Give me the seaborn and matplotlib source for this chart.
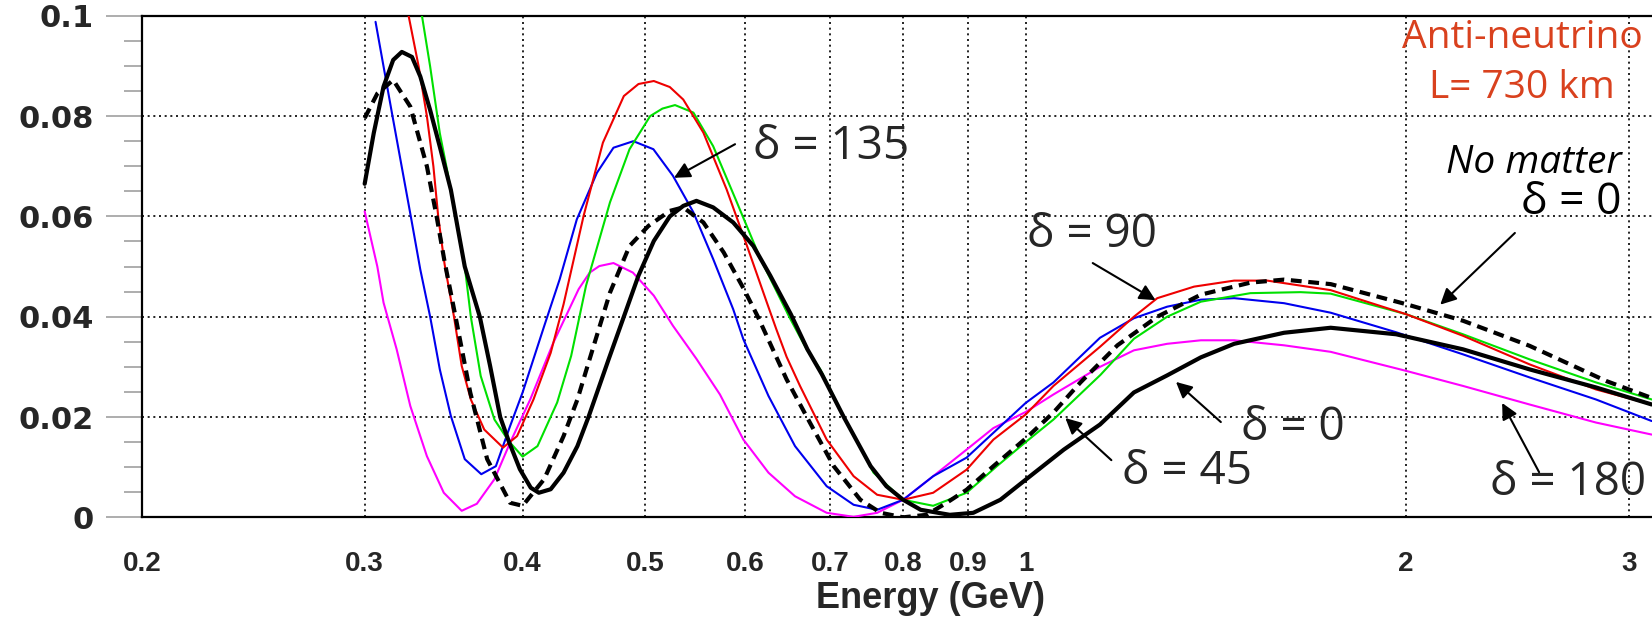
import numpy as np
import pandas as pd
import matplotlib
matplotlib.use("Agg")
import matplotlib.pyplot as plt
import seaborn as sns

# ---------------- data ----------------
black_E = [0.300, 0.305, 0.3105, 0.316, 0.321, 0.327, 0.332, 0.338, 0.344, 0.351, 0.356, 0.360,
           0.370, 0.377, 0.384, 0.390, 0.398, 0.406, 0.412, 0.421, 0.431, 0.442, 0.451, 0.468,
           0.481, 0.494, 0.508, 0.523, 0.536, 0.549, 0.566, 0.587, 0.609, 0.628, 0.652, 0.672,
           0.690, 0.718, 0.754, 0.776, 0.800, 0.826, 0.871, 0.909, 0.955, 1.000, 1.072, 1.145,
           1.218, 1.294, 1.376, 1.462, 1.601, 1.743, 1.964, 2.218, 2.504, 2.826, 3.128]
black_P = [0.0665, 0.0766, 0.0859, 0.0912, 0.0928, 0.0918, 0.0879, 0.0812, 0.0739, 0.0653, 0.0567, 0.0500,
           0.0400, 0.0302, 0.0200, 0.0152, 0.0096, 0.0059, 0.0049, 0.0056, 0.0089, 0.0142, 0.0200, 0.0316,
           0.0400, 0.0482, 0.0551, 0.0600, 0.0621, 0.0631, 0.0618, 0.0588, 0.0541, 0.0482, 0.0405, 0.0335,
           0.0285, 0.0200, 0.0102, 0.0062, 0.0035, 0.0015, 0.0005, 0.0009, 0.0035, 0.0075, 0.0135, 0.0185,
           0.0249, 0.0283, 0.0319, 0.0346, 0.0368, 0.0378, 0.0365, 0.0335, 0.0295, 0.0259, 0.0225]

nomat_E = [0.300, 0.307, 0.316, 0.326, 0.336, 0.342, 0.347, 0.354, 0.3636, 0.375, 0.391, 0.400,
           0.416, 0.431, 0.442, 0.451, 0.469, 0.486, 0.503, 0.523, 0.536, 0.556, 0.577, 0.598,
           0.614, 0.647, 0.675, 0.705, 0.740, 0.768, 0.800, 0.835, 0.866, 0.898, 0.943, 1.000,
           1.052, 1.105, 1.182, 1.271, 1.376, 1.506, 1.601, 1.743, 2.000, 2.218, 2.504, 2.878, 3.128]
nomat_P = [0.0796, 0.0845, 0.0872, 0.0819, 0.0700, 0.0600, 0.0510, 0.0400, 0.0249, 0.0116, 0.0029, 0.0023,
           0.0076, 0.0162, 0.0235, 0.0308, 0.0448, 0.0541, 0.0581, 0.0611, 0.0618, 0.0588, 0.0528, 0.0457,
           0.0400, 0.0275, 0.0189, 0.0102, 0.0035, 0.0009, 0.0000, 0.0005, 0.0029, 0.0055, 0.0102, 0.0157,
           0.0209, 0.0269, 0.0343, 0.0400, 0.0444, 0.0468, 0.0474, 0.0465, 0.0425, 0.0392, 0.0342, 0.0272, 0.0238]

red_E = [0.325, 0.331, 0.336, 0.340, 0.343, 0.347, 0.353, 0.358, 0.364, 0.373, 0.386, 0.396,
         0.408, 0.421, 0.431, 0.447, 0.463, 0.481, 0.494, 0.508, 0.523, 0.536, 0.556, 0.580, 0.602,
         0.624, 0.635, 0.647, 0.663, 0.696, 0.731, 0.763, 0.800, 0.845, 0.898, 0.943, 1.000,
         1.052, 1.145, 1.218, 1.271, 1.359, 1.462, 1.553, 1.743, 2.000, 2.218, 2.504, 2.826, 3.128]
red_P = [0.1000, 0.0899, 0.0800, 0.0700, 0.0600, 0.0505, 0.0400, 0.0302, 0.0235, 0.0175, 0.0139, 0.0162,
         0.0235, 0.0328, 0.0425, 0.0601, 0.0747, 0.0840, 0.0864, 0.0870, 0.0858, 0.0833, 0.0767, 0.0654, 0.0541,
         0.0429, 0.0375, 0.0320, 0.0262, 0.0155, 0.0082, 0.0045, 0.0035, 0.0049, 0.0095, 0.0155, 0.0205,
         0.0262, 0.0340, 0.0400, 0.0437, 0.0460, 0.0472, 0.0472, 0.0453, 0.0405, 0.0362, 0.0305, 0.0255, 0.0225]

green_E = [0.333, 0.338, 0.344, 0.349, 0.354, 0.360, 0.364, 0.3706, 0.380, 0.390, 0.400, 0.411,
           0.426, 0.437, 0.449, 0.469, 0.486, 0.5046, 0.516, 0.528, 0.546, 0.566, 0.591, 0.617, 0.632,
           0.650, 0.671, 0.688, 0.722, 0.758, 0.800, 0.845, 0.898, 0.949, 1.000, 1.052, 1.146,
           1.218, 1.294, 1.376, 1.506, 1.650, 1.743, 2.000, 2.218, 2.504, 2.826, 3.128]
green_P = [0.1000, 0.0899, 0.0766, 0.0686, 0.0600, 0.0500, 0.0400, 0.0282, 0.0195, 0.0152, 0.0121, 0.0142,
           0.0229, 0.0322, 0.0462, 0.0628, 0.0734, 0.0800, 0.0815, 0.0822, 0.0807, 0.0740, 0.0628, 0.0515, 0.0462,
           0.0400, 0.0335, 0.0295, 0.0189, 0.0089, 0.0035, 0.0023, 0.0049, 0.0102, 0.0150, 0.0195, 0.0284,
           0.0356, 0.0400, 0.0430, 0.0447, 0.0449, 0.0446, 0.0405, 0.0365, 0.0315, 0.0269, 0.0235]

blue_E = [0.306, 0.3105, 0.3156, 0.3209, 0.3263, 0.332, 0.338, 0.344, 0.351, 0.360, 0.371, 0.381,
          0.391, 0.400, 0.416, 0.428, 0.4415, 0.458, 0.472, 0.4894, 0.5076, 0.526, 0.546, 0.566,
          0.587, 0.598, 0.626, 0.657, 0.696, 0.731, 0.763, 0.800, 0.845, 0.898, 0.949, 1.000,
          1.052, 1.145, 1.218, 1.294, 1.376, 1.462, 1.601, 1.743, 1.964, 2.218, 2.504, 2.826, 3.128]
blue_P = [0.0988, 0.0899, 0.0800, 0.0700, 0.0600, 0.0494, 0.0400, 0.0295, 0.0202, 0.0116, 0.0086, 0.0102,
          0.0182, 0.0249, 0.0381, 0.0475, 0.0594, 0.0687, 0.0737, 0.0750, 0.0734, 0.0681, 0.0608, 0.0515,
          0.0415, 0.0355, 0.0242, 0.0142, 0.0062, 0.0025, 0.0015, 0.0035, 0.0082, 0.0119, 0.0175, 0.0228,
          0.0269, 0.0358, 0.0397, 0.0420, 0.0434, 0.0437, 0.0427, 0.0408, 0.0369, 0.0325, 0.0279, 0.0235, 0.0192]

mag_E = [0.300, 0.307, 0.3105, 0.318, 0.326, 0.336, 0.3465, 0.358, 0.368, 0.380, 0.391, 0.4056,
         0.423, 0.443, 0.452, 0.460, 0.472, 0.489, 0.508, 0.526, 0.549, 0.573, 0.598, 0.626,
         0.657, 0.696, 0.731, 0.763, 0.800, 0.845, 0.898, 0.943, 1.000, 1.052, 1.145, 1.218,
         1.294, 1.376, 1.462, 1.601, 1.743, 2.000, 2.218, 2.504, 2.826, 3.128]
mag_P = [0.0610, 0.0500, 0.0428, 0.0335, 0.0222, 0.0122, 0.0049, 0.0013, 0.0027, 0.0076, 0.0149, 0.0235,
         0.0348, 0.0455, 0.0488, 0.0501, 0.0507, 0.0488, 0.0442, 0.0382, 0.0316, 0.0245, 0.0155, 0.0089,
         0.0042, 0.0009, 0.0001, 0.0009, 0.0035, 0.0082, 0.0135, 0.0178, 0.0210, 0.0245, 0.0300, 0.0333,
         0.0346, 0.0353, 0.0353, 0.0343, 0.0330, 0.0292, 0.0262, 0.0225, 0.0189, 0.0165]

x_ticks = [0.2, 0.3, 0.4, 0.5, 0.6, 0.7, 0.8, 0.9, 1, 2, 3]
x_ticklabels = ["0.2", "0.3", "0.4", "0.5", "0.6", "0.7", "0.8", "0.9", "1", "2", "3"]
y_ticks = [0, 0.02, 0.04, 0.06, 0.08, 0.1]
y_ticklabels = ["0", "0.02", "0.04", "0.06", "0.08", "0.1"]

# ---------------- figure ----------------
sns.set_style("white")
plt.rcParams["font.family"] = ["Liberation Sans", "DejaVu Sans"]

fig = plt.figure(figsize=(16.52, 6.20), dpi=100)
ax = fig.add_axes([0.0860, 0.1656, 0.954, 0.8089])

curves = [
    ("mag", mag_E, mag_P, "#ff00ff", 1.5, "-", 3),
    ("blue", blue_E, blue_P, "#0000ee", 1.5, "-", 3),
    ("green", green_E, green_P, "#00e000", 1.5, "-", 3),
    ("red", red_E, red_P, "#ee0000", 1.5, "-", 3),
    ("nomat", nomat_E, nomat_P, "black", 3.0, (0, (2.6, 1.6)), 4),
    ("black", black_E, black_P, "black", 3.0, "-", 5),
]
for name, E, P, col, lw, ls, z in curves:
    df = pd.DataFrame({"E": E, "P": P})
    sns.lineplot(data=df, x="E", y="P", ax=ax, color=col, linewidth=lw,
                 linestyle=ls, estimator=None, sort=True, zorder=z)

ax.set_xscale("log")
ax.set_xlim(0.2, 3.53)
ax.set_ylim(0, 0.1)

ax.set_xticks(x_ticks)
ax.set_xticklabels(x_ticklabels)
ax.xaxis.set_minor_locator(matplotlib.ticker.NullLocator())
ax.set_yticks(y_ticks)
ax.set_yticklabels(y_ticklabels)
ax.yaxis.set_minor_locator(matplotlib.ticker.MultipleLocator(0.005))

for lab in ax.get_xticklabels():
    lab.set_fontweight("bold")
    lab.set_fontsize(20)
for lab in ax.get_yticklabels():
    lab.set_fontweight("bold")
    lab.set_fontsize(22)
    lab.set_family(["DejaVu Sans"])

ax.tick_params(axis="x", which="both", length=0, pad=24)
ax.tick_params(axis="y", which="major", direction="out", length=26, width=1.2,
               color="#a0a0a0", pad=9, left=True)
ax.tick_params(axis="y", which="minor", direction="out", length=13, width=1.2,
               color="#a0a0a0", left=True)

# dotted grid (no line at the left spine)
for xv in x_ticks[1:]:
    ax.axvline(xv, color="black", lw=1.2, ls=(0, (1.2, 2.2)), zorder=1)
for yv in y_ticks[1:-1]:
    ax.axhline(yv, color="black", lw=1.2, ls=(0, (1.2, 2.2)), zorder=1)

for s in ["left", "bottom", "top"]:
    ax.spines[s].set_color("black")
    ax.spines[s].set_linewidth(1.6)
ax.spines["right"].set_visible(False)

ax.set_xlabel("Energy (GeV)", fontsize=26, fontweight="bold", labelpad=3)
ax.set_ylabel("")

# ---------------- annotations ----------------
tf = ["Open Sans", "DejaVu Sans"]
arrow = dict(arrowstyle="-|>", color="black", lw=1.5, mutation_scale=24,
             shrinkA=0, shrinkB=0)

ax.text(2.47, 0.0956, "Anti-neutrino", color="#d9411e", fontsize=28, family=tf,
        ha="center", va="center")
ax.text(2.47, 0.0856, "L= 730 km", color="#d9411e", fontsize=28, family=tf,
        ha="center", va="center")
ax.text(2.96, 0.0706, "No matter", color="black", fontsize=28, family=tf,
        style="italic", ha="right", va="center")
ax.text(2.96, 0.0627, "δ = 0", color="black", fontsize=32, family=tf,
        ha="right", va="center")
ax.annotate("", xy=(2.128, 0.0424), xytext=(2.438, 0.0567), arrowprops=arrow)

ax.text(0.609, 0.0738, "δ = 135", fontsize=33, family=tf, ha="left", va="center")
ax.annotate("", xy=(0.527, 0.0677), xytext=(0.589, 0.0744), arrowprops=arrow)

ax.text(1.003, 0.0563, "δ = 90", fontsize=33, family=tf, ha="left", va="center")
ax.annotate("", xy=(1.267, 0.0433), xytext=(1.130, 0.0507), arrowprops=arrow)

ax.text(1.48, 0.0178, "δ = 0", fontsize=33, family=tf, ha="left", va="center")
ax.annotate("", xy=(1.315, 0.0270), xytext=(1.427, 0.0190), arrowprops=arrow)

ax.text(1.191, 0.0090, "δ = 45", fontsize=33, family=tf, ha="left", va="center")
ax.annotate("", xy=(1.075, 0.0198), xytext=(1.169, 0.0114), arrowprops=arrow)

ax.text(2.33, 0.0068, "δ = 180", fontsize=33, family=tf, ha="left", va="center")
ax.annotate("", xy=(2.382, 0.0228), xytext=(2.548, 0.0090), arrowprops=arrow)

fig.savefig("out.png", dpi=100)
